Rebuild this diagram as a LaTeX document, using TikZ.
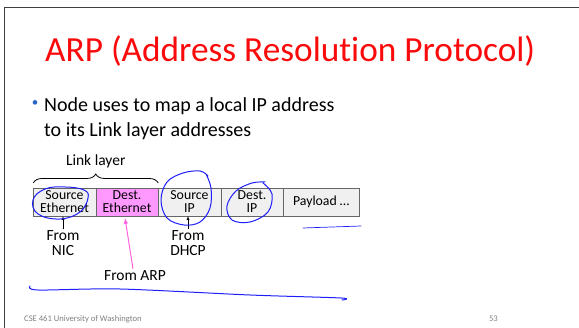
\documentclass[tikz,border=0pt]{standalone}
\usepackage{fontspec}
\setmainfont{Carlito}[Ligatures=NoCommon]
\usepackage{tikz}
\usetikzlibrary{
	arrows,
	calc,
	decorations.pathreplacing,
	positioning
}
\definecolor{titlered}{RGB}{250,10,10}
\definecolor{bulletblue}{RGB}{40,100,200}
\definecolor{fieldgray}{RGB}{240,240,240}
\definecolor{fieldpink}{RGB}{255,153,255}
\definecolor{arppink}{RGB}{255,100,220}
\definecolor{penblue}{RGB}{30,30,250}

\begin{document}
\begin{tikzpicture}[x=1pt, y=-1pt,
	field/.style={draw=black!60, fill=fieldgray, minimum height=28pt, minimum width=62.5pt,
		inner sep=0pt, outer sep=0pt, align=center, font=\fontsize{13.8}{13}\selectfont},
	small/.style={align=center, font=\fontsize{15.5}{15}\selectfont, inner sep=1pt},
	ink/.style={penblue, line width=1pt, line cap=round, line join=round}]

	\useasboundingbox (0,0) rectangle (579,328);
	\draw[black!75] (4,328) -- (4,7) -- (579,7);

	\node[anchor=base west, text=titlered, font=\fontsize{35.3}{35}\selectfont, inner sep=0pt] (title) at (45,62) {ARP (Address Resolution Protocol)};

	\node[anchor=base, text=bulletblue, font=\fontsize{13}{13}\selectfont, inner sep=0pt] (dot) at (35,107) {\textbullet};
	\node[anchor=base west, font=\fontsize{20}{20}\selectfont, inner sep=0pt] (line1) at (44,112) {Node uses to map a local IP address};
	\node[anchor=base west, font=\fontsize{20}{20}\selectfont, inner sep=0pt] (line2) at (44,137) {to its Link layer addresses};

	% the header fields
	\node[field] (srceth) at (64.5,202) {Source\\Ethernet};
	\node[field, fill=fieldpink, right=0pt of srceth] (dsteth) {Dest.\\Ethernet};
	\node[field, right=0pt of dsteth] (srcip) {Source\\IP};
	\node[field, right=0pt of srcip] (dstip) {Dest.\\IP};
	\node[field, right=0pt of dstip, minimum width=76pt] (payload) {Payload \dots};

	\draw [line width=0.8pt, decorate, decoration={brace, amplitude=9pt, raise=5pt}]
	(srceth.north west) -- (dsteth.north east) node[midway, small, yshift=27pt] (link) {Link layer};

	\node[small] (nic) at (63,243) {From\\NIC};
	\node[small] (dhcp) at (188,243) {From\\DHCP};
	\node[small] (arp) at (135,276) {From ARP};

	\draw[-latex] (nic.north) -- (nic.north |- srceth.south);
	\draw[-latex] (dhcp.north) -- (dhcp.north |- srcip.south);
	\draw[-latex, arppink, line width=1pt] ($(arp.north)+(-2,-1)$) -- ($(dsteth.south)+(-2,2)$);

	% pen marks
	\draw[ink] plot[smooth cycle, tension=0.7] coordinates {(88,198) (80,212) (60,219) (38,214) (33,200) (45,189) (65,187) (84,190)};
	\draw[ink] plot[smooth, tension=0.6] coordinates {(206,174) (211,188) (210,208) (200,222) (184,225) (167,218) (161,200) (167,182) (183,173) (200,171) (208,176)};
	\draw[ink] plot[smooth, tension=0.6] coordinates {(263,183) (272,194) (268,212) (250,222) (232,220) (227,206) (236,191) (252,183) (265,182)};
	\draw[ink, line width=0.7pt] (303,228) -- (361,226);
	\draw[ink] plot[smooth, tension=0.5] coordinates {(30,286) (38,290) (120,289) (250,295) (341,298) (342,300)};

	\node[anchor=base west, text=black!50, font=\fontsize{8.6}{8}\selectfont, inner sep=0pt] (footer) at (24,322) {CSE 461 University of Washington};
	\node[anchor=base east, text=black!50, font=\fontsize{8.6}{8}\selectfont, inner sep=0pt] (page) at (498,322) {53};

\end{tikzpicture}
\end{document}
